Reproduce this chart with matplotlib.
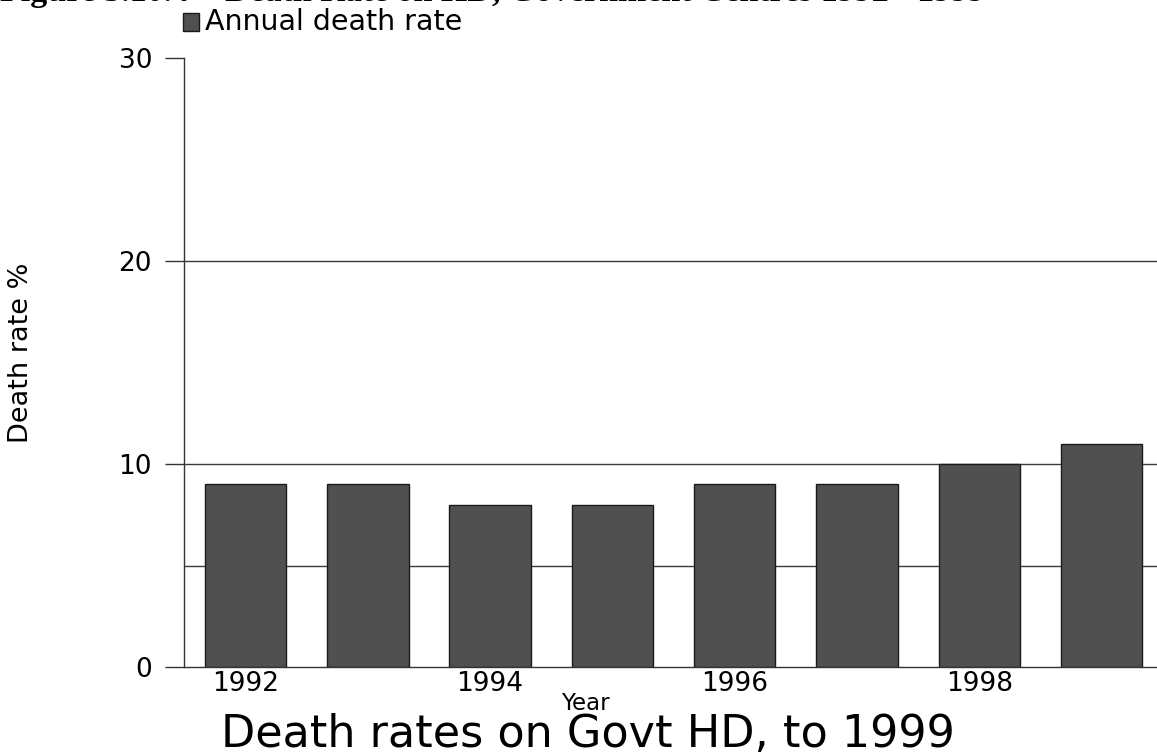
import matplotlib
matplotlib.use("Agg")
import matplotlib.pyplot as plt
from matplotlib.patches import Rectangle

years = [1992, 1993, 1994, 1995, 1996, 1997, 1998, 1999]
death_rate = [9, 9, 8, 8, 9, 9, 10, 11]
xtick_labels = ["1992", "1994", "1996", "1998"]
ytick_values = [0, 10, 20, 30]
grid_values = [5, 10, 20]
series_name = "Annual death rate"

W, H = 1157, 754
fig = plt.figure(figsize=(W / 100, H / 100), dpi=100)
plt.rcParams['font.family'] = ['DejaVu Sans']

left, right, bottom, top = 184, 1157, 667, 58
ax = fig.add_axes([left / W, 1 - bottom / H, (right - left) / W, (bottom - top) / H])

bar_color = '#505050'
ax.bar(years, death_rate, width=0.666, color=bar_color, edgecolor='#1a1a1a',
       linewidth=1.0, zorder=3)

for g in grid_values:
    ax.axhline(g, color='#3a3a3a', linewidth=1.0, zorder=1)

ax.set_ylim(0, 30)
ax.set_xlim(1991.497, 1999.453)

ax.set_yticks(ytick_values)
ax.set_yticklabels([str(v) for v in ytick_values], fontsize=19)
ax.set_xticks([int(t) for t in xtick_labels])
ax.set_xticklabels(xtick_labels, fontsize=19)

ax.tick_params(axis='y', length=14, width=1.0, color='#333333', pad=9)
ax.tick_params(axis='x', length=0, pad=3)

for s in ['top', 'right']:
    ax.spines[s].set_visible(False)
for s in ['left', 'bottom']:
    ax.spines[s].set_color('#333333')
    ax.spines[s].set_linewidth(1.0)

# axis labels and title placed in figure coordinates
fig.text(21 / W, 1 - 352.5 / H, "Death rate %", rotation=90, ha='center',
         va='center', fontsize=19.5)
fig.text(585 / W, 1 - 710 / H, "Year", ha='center', va='baseline', fontsize=16.5)
fig.text(588 / W, 1 - 747 / H, "Death rates on Govt HD, to 1999", ha='center',
         va='baseline', fontsize=32)

# legend
fig.patches.append(Rectangle((183 / W, 1 - 31 / H), 16 / W, 18 / H,
                             transform=fig.transFigure, facecolor=bar_color,
                             edgecolor='#1a1a1a', linewidth=1.0))
fig.text(205 / W, 1 - 22 / H, series_name, ha='left', va='center', fontsize=20.5)

# cut-off header at top
fig.text(0 / W, 1 - 1 / H, "Figure 5.10.4", ha='left', va='baseline',
         fontsize=24.5, family='Liberation Serif', fontweight='bold')
fig.text(225 / W, 1 - 1 / H, "Death Rate on HD, Government Centres 1992 - 1999",
         ha='left', va='baseline', fontsize=24.5, family='Liberation Serif',
         fontweight='bold')

fig.savefig("out.png", dpi=100)
